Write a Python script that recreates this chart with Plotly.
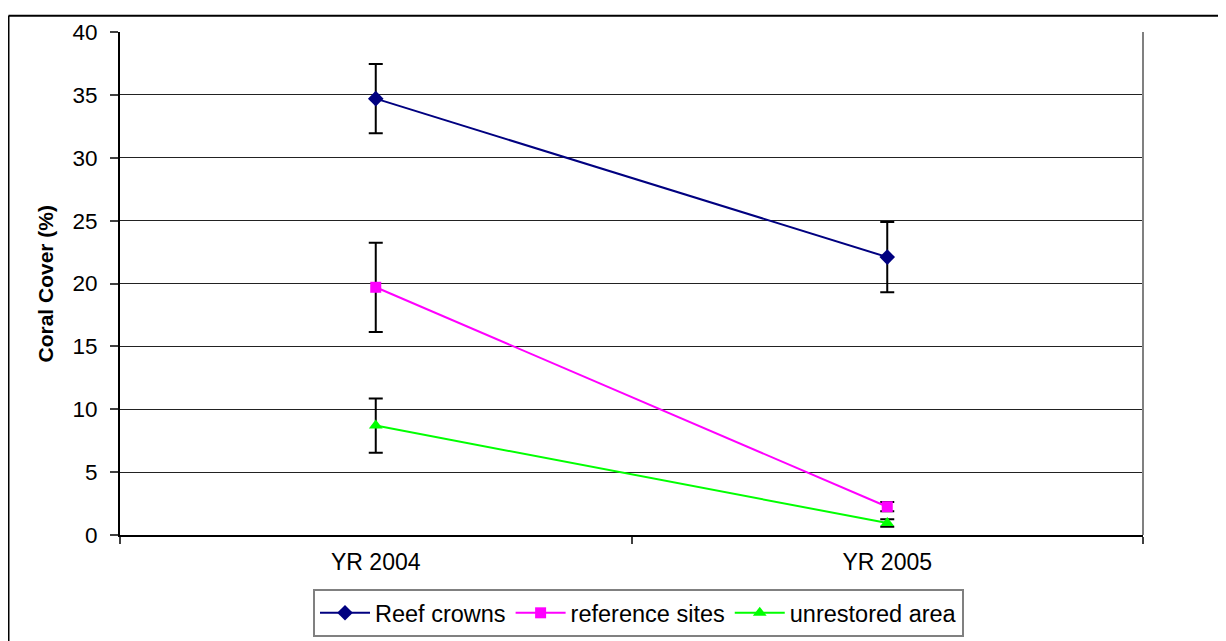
import plotly.graph_objects as go

categories = ["YR 2004", "YR 2005"]
series_names = ["Reef crowns", "reference sites", "unrestored area"]
reef_crowns = [34.7, 22.1]
reef_crowns_err = [2.75, 2.8]
reference_sites = [19.7, 2.25]
reference_sites_err = [3.55, 0.37]
unrestored_area = [8.7, 0.95]
unrestored_area_err = [2.15, 0.3]
y_ticks = [0, 5, 10, 15, 20, 25, 30, 35, 40]

colors = ["#000080", "#FF00FF", "#00FF00"]
symbols = ["diamond", "square", "triangle-up"]
sizes = [12, 11, 12]

FONT = "Arial, Liberation Sans, sans-serif"

# figure layout (figure pixels; page adds an 8px body margin)
L, R, T, B = 112, 91, 16, 113
PW, PH = 1226 - L - R, 641 - T - B

fig = go.Figure()
for name, vals, errs, c, s, sz in zip(
    series_names,
    [reef_crowns, reference_sites, unrestored_area],
    [reef_crowns_err, reference_sites_err, unrestored_area_err],
    colors, symbols, sizes,
):
    fig.add_trace(go.Scatter(
        x=categories, y=vals, name=name, mode="lines+markers",
        line=dict(color=c, width=2),
        marker=dict(symbol=s, size=sz, color=c),
        error_y=dict(type="data", array=errs, visible=True,
                     color="black", thickness=2, width=7),
    ))

fx = lambda px: (px - L) / PW
fy = lambda py: (T + PH - py) / PH

fig.update_layout(
    width=1226, height=641,
    margin=dict(l=L, r=R, t=T, b=B),
    paper_bgcolor="white", plot_bgcolor="white",
    font=dict(family=FONT, size=22, color="black"),
    showlegend=True,
    legend=dict(
        orientation="h", x=fx(630.5), xanchor="center", y=fy(583), yanchor="top",
        bordercolor="#808080", borderwidth=2, bgcolor="white",
        font=dict(family=FONT, size=23.5, color="black"),
        itemwidth=50,
    ),
    xaxis=dict(
        type="category", range=[-0.5, 1.5],
        tickson="boundaries", ticks="outside", ticklen=7, tickcolor="#404040",
        tickwidth=1.5, ticklabelstandoff=5,
        showline=True, linecolor="black", linewidth=2,
        showgrid=False, tickfont=dict(size=23),
    ),
    yaxis=dict(
        range=[0, 40], tickvals=y_ticks, ticks="outside", ticklen=8,
        tickcolor="#404040", tickwidth=1.5, ticklabelstandoff=8,
        showline=True, linecolor="black", linewidth=2,
        showgrid=True, gridcolor="#222222", gridwidth=1,
        zeroline=False, tickfont=dict(size=22.5),
    ),
    annotations=[dict(
        text="<b>Coral Cover (%)</b>", textangle=-90,
        xref="paper", yref="paper", x=fx(37), y=0.5,
        xanchor="center", yanchor="middle", showarrow=False,
        font=dict(family=FONT, size=21, color="black"),
    )],
    shapes=[
        dict(type="line", xref="paper", yref="paper", x0=1, x1=1, y0=0, y1=1,
             line=dict(color="#808080", width=2)),
        dict(type="line", xref="paper", yref="paper", x0=fx(0.5), x1=fx(1300), y0=fy(-0.5), y1=fy(-0.5),
             line=dict(color="black", width=2)),
        dict(type="line", xref="paper", yref="paper", x0=fx(0.5), x1=fx(0.5), y0=fy(-0.5), y1=fy(700),
             line=dict(color="black", width=2)),
    ],
)

fig.write_html("out.html")
